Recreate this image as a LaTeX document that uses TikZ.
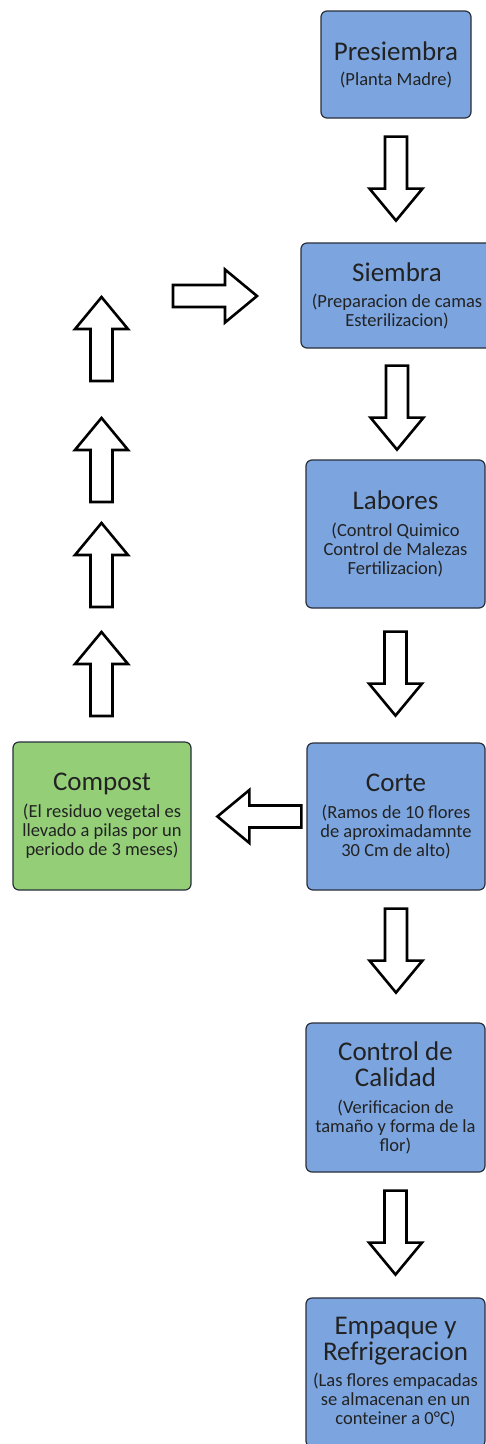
\documentclass[tikz,border=0pt]{standalone}
\usepackage{fontspec}
\setmainfont{Carlito}
\definecolor{stagefill}{RGB}{124,165,224}
\definecolor{compfill}{RGB}{148,207,120}
\definecolor{stageline}{RGB}{40,46,58}
\definecolor{stagetext}{RGB}{34,34,34}
\newcommand{\stagetitle}[1]{{\fontsize{27}{26}\selectfont #1}}
\newcommand{\stagefont}{\fontsize{18.5}{19}\selectfont\lineskiplimit -50pt\relax}
\tikzset{
  stage/.style={draw=stageline, fill=stagefill, line width=1.2pt, rounded corners=6pt,
    align=center, inner sep=0pt, text=stagetext, font=\stagefont},
  blockarr/.pic={
    \draw[line width=2.6pt, fill=white, line join=miter]
      (0,11) -- (52,11) -- (52,26.5) -- (84,0) -- (52,-26.5) -- (52,-11) -- (0,-11) -- cycle;
  }
}
\begin{document}
\begin{tikzpicture}[x=1pt, y=1pt]
	\clip (0,0) rectangle (486,-1444);
	\fill[white] (0,0) rectangle (486,-1444);
	% main column
	\node[stage, minimum width=150pt, minimum height=107pt] (pres) at (396,-64.5)
		{\stagetitle{Presiembra}\\[6pt] (Planta Madre)};
	\node[stage, minimum width=192pt, minimum height=105pt] (siem) at (397,-295.5)
		{\stagetitle{Siembra}\\[7pt] (Preparacion de camas\\ Esterilizacion)};
	\node[stage, minimum width=179pt, minimum height=148pt] (lab) at (395.5,-534)
		{\stagetitle{Labores}\\[8pt] (Control Quimico\\ Control de Malezas\\ Fertilizacion)};
	\node[stage, minimum width=178pt, minimum height=147pt] (corte) at (396,-816.5)
		{\stagetitle{Corte}\\[8pt] (Ramos de 10 flores\\ de aproximadamnte\\ 30 Cm de alto)};
	\node[stage, minimum width=179pt, minimum height=149pt] (cal) at (395.5,-1097.5)
		{\stagetitle{Control de}\\[7pt] \stagetitle{Calidad}\\[8pt] (Verificacion de\\ tamaño y forma de la\\ flor)};
	\node[stage, minimum width=179pt, minimum height=149pt] (emp) at (395.5,-1372.5)
		{\stagetitle{Empaque y}\\[7pt] \stagetitle{Refrigeracion}\\[7pt] (Las flores empacadas\\ se almacenan en un\\ conteiner a 0°C)};
	% compost
	\node[stage, fill=compfill, minimum width=178pt, minimum height=148pt] (comp) at (102,-816)
		{\stagetitle{Compost}\\[8pt] (El residuo vegetal es\\ llevado a pilas por un\\ periodo de 3 meses)};
	% arrows
	\pic[rotate=-90] at ([yshift=-18pt]pres.south) {blockarr};
	\pic[rotate=-90] at ([yshift=-17pt]siem.south) {blockarr};
	\pic[rotate=-90] at ([yshift=-23pt]lab.south) {blockarr};
	\pic[rotate=-90] at ([yshift=-18pt]corte.south) {blockarr};
	\pic[rotate=-90] at ([yshift=-18pt]cal.south) {blockarr};
	\pic[rotate=180] at ([xshift=-5pt]corte.west) {blockarr};
	\foreach \y in {716,607,502,381}
		\pic[rotate=90] at (101.5,-\y) {blockarr};
	\pic at (173,-296) {blockarr};
\end{tikzpicture}
\end{document}
